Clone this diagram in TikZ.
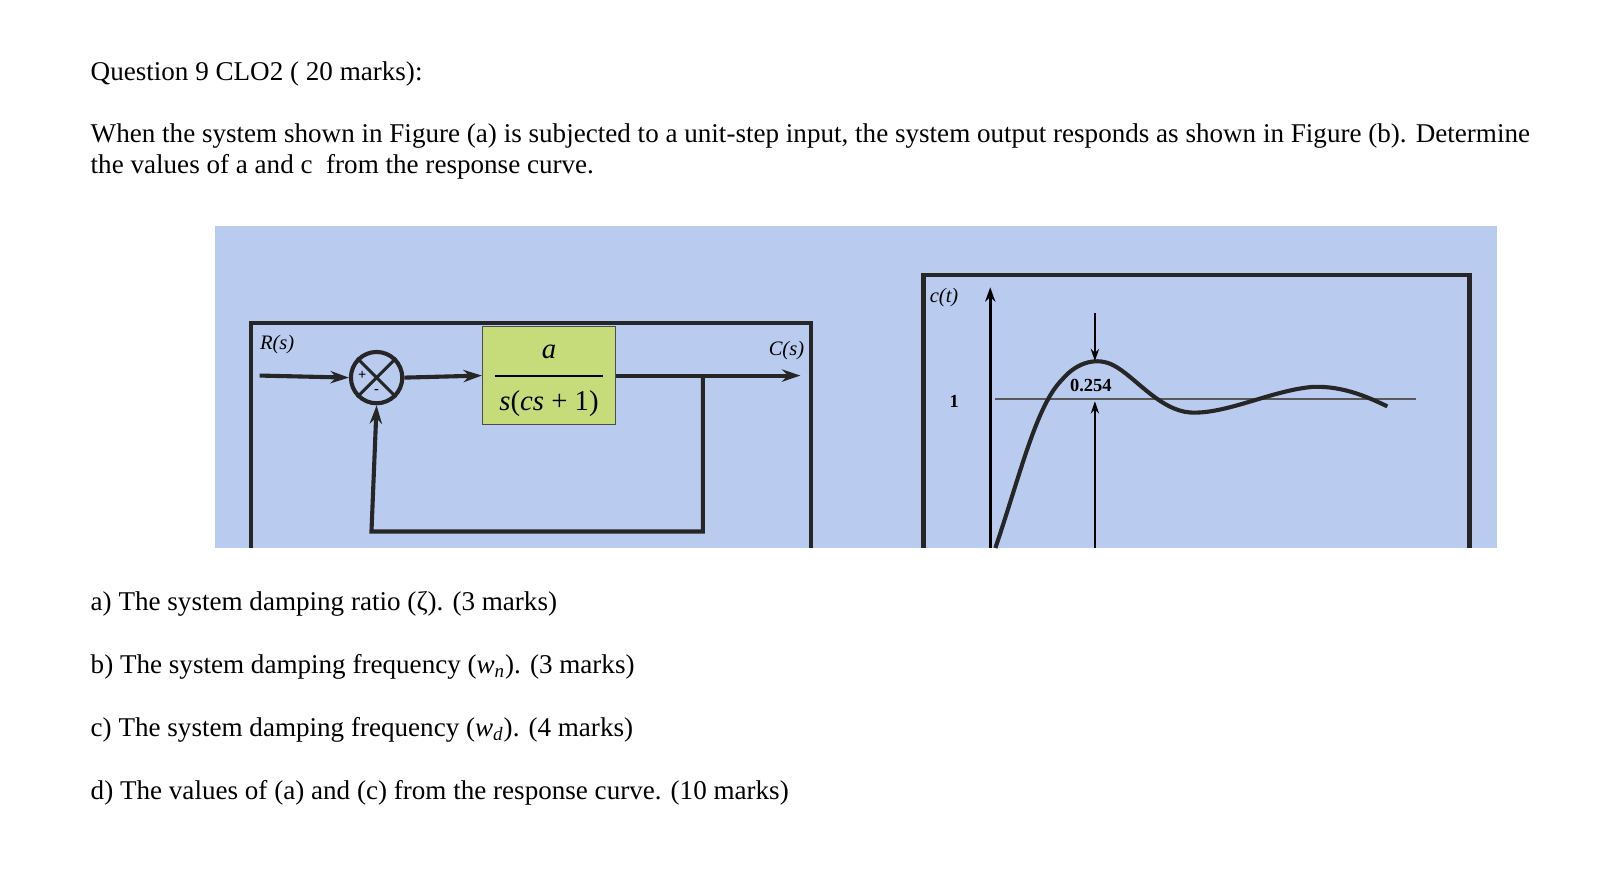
\documentclass[tikz,border=0pt]{standalone}
\usepackage{fontspec}
\setmainfont{Liberation Serif}
\usetikzlibrary{arrows.meta}
\definecolor{panel}{HTML}{B9CCF0}
\definecolor{blockg}{HTML}{C6DC7A}
\tikzset{
  txt/.style={anchor=west,inner sep=0pt,font=\fontsize{13.2}{15}\selectfont},
  thick line/.style={line width=2pt,black!85},
  arr/.style={thick line,-{Stealth[length=9pt,width=6pt]}},
  dlabel/.style={font=\fontsize{10}{12}\selectfont\itshape,inner sep=0pt}
}
\begin{document}
\begin{tikzpicture}[x=0.5pt,y=-0.5pt]
\fill[white] (0,0) rectangle (1568,849);
\node[txt] (q) at (88,72) {Question 9 CLO2 ( 20 marks):};
\node[txt] (l1) at (88,133) {When the system shown in Figure (a) is subjected to a unit-step input, the system output responds as shown in Figure (b). Determine};
\node[txt] (l2) at (88,163) {the values of a and c\ \ from the response curve.};
% panel
\fill[panel] (210,220) rectangle (1459,534);
% block diagram frame
\draw[thick line] (245,534) -- (245,315) -- (790,315) -- (790,534);
\node[dlabel,anchor=north west] (R) at (253,326) {R(s)};
\node[dlabel,anchor=north east] (C) at (784,332) {C(s)};
\node[draw,circle,thick line,inner sep=0pt,minimum size=25pt] (sum) at (367,368) {};
\draw[line width=1.5pt,black!85] (sum.north west) -- (sum.south east) (sum.north east) -- (sum.south west);
\node[font=\fontsize{7}{8}\selectfont\bfseries] at (353,366) {+};
\node[font=\fontsize{7}{8}\selectfont\bfseries] at (367,382) {-};
\node[draw=black!70,fill=blockg,minimum width=65pt,minimum height=48pt,inner sep=0pt] (G) at (535,366) {};
\node[font=\fontsize{14}{15}\selectfont] at (535,343) {\textit{a}};
\draw[line width=1pt] (482,366) -- (588,366);
\node[font=\fontsize{14}{15}\selectfont] at (535,393) {\textit{s}(\textit{cs} + 1)};
\coordinate (in) at (253,366);
\coordinate (out) at (780,366);
\coordinate (br) at (685,366);
\draw[arr] (in) -- (sum.west);
\draw[arr] (sum.east) -- (G.west);
\draw[arr] (G.east) -- (out);
\draw[arr] (br) -- (685,518) -- (362,518) -- (sum.south);
% response plot
\draw[thick line] (900,534) -- (900,268) -- (1432,268) -- (1432,534);
\draw[line width=1.3pt,-{Stealth[length=7pt,width=5pt]}] (965,534) -- (965,280);
\node[dlabel] (ct) at (920,290) {c(t)};
\node[font=\fontsize{9}{10}\selectfont\bfseries] (one) at (930,391) {1};
\draw[gray!70!black,line width=0.8pt] (970,389) -- (1380,389);
\draw[line width=2pt,black!85] (970,534) .. controls (995,460) and (1010,395) .. (1035,370)
  .. controls (1050,352) and (1070,348) .. (1085,356)
  .. controls (1105,366) and (1130,400) .. (1160,402)
  .. controls (1195,404) and (1240,380) .. (1280,377)
  .. controls (1310,376) and (1335,388) .. (1352,396);
\draw[line width=1pt,-{Stealth[length=6pt,width=4pt]}] (1067,305) -- (1067,352);
\draw[line width=1pt,-{Stealth[length=6pt,width=4pt]}] (1067,534) -- (1067,391);
\node[font=\fontsize{9}{10}\selectfont\bfseries] (pk) at (1063,376) {0.254};
% questions
\node[txt] (qa) at (88,589) {a) The system damping ratio (ζ). (3 marks)};
\node[txt] (qb) at (88,650) {b) The system damping frequency (\textit{w}\textsubscript{\textit{n}}). (3 marks)};
\node[txt] (qc) at (88,711) {c) The system damping frequency (\textit{w}\textsubscript{\textit{d}}). (4 marks)};
\node[txt] (qd) at (88,773) {d) The values of (a) and (c) from the response curve. (10 marks)};
\pgfresetboundingbox
\path[use as bounding box] (0,0) rectangle (1568,849);
\end{tikzpicture}
\end{document}
